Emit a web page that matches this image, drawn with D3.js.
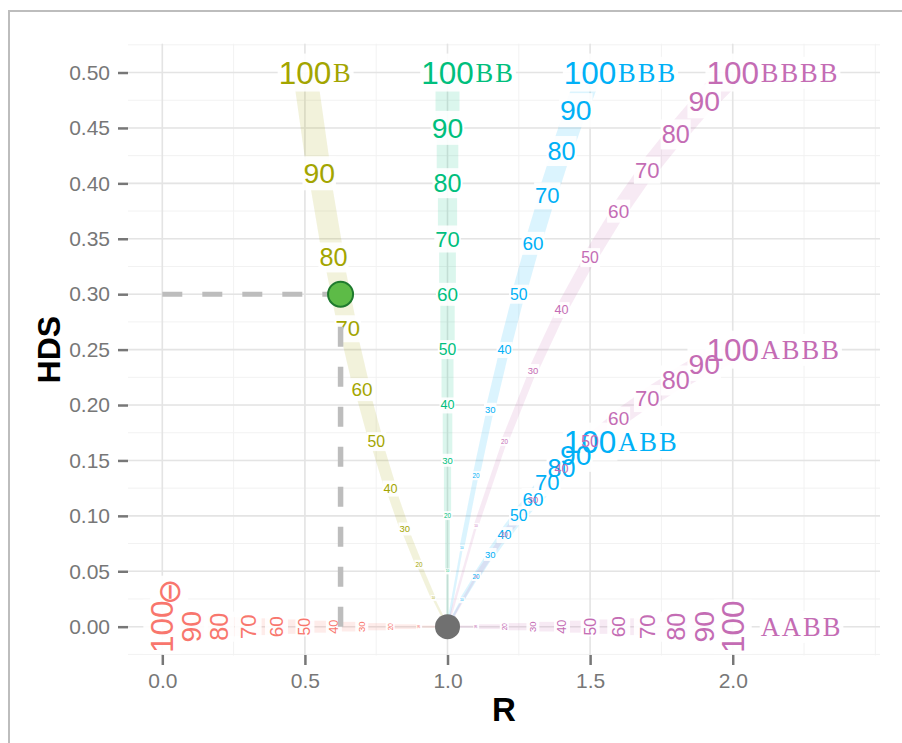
<!DOCTYPE html>
<html>
<head>
<meta charset="utf-8">
<script src="https://cdn.jsdelivr.net/npm/d3@7"></script>
<style>
  body { margin: 0; background: #fff; }
  svg text { font-family: "Liberation Sans", Arial, sans-serif; }
  svg text.suffix { font-family: "Liberation Serif", "Times New Roman", serif; letter-spacing: 2px; }
</style>
</head>
<body>
<div id="chart"></div>
<script>
// tumour purity (%) of every label
const purity = [10, 20, 30, 40, 50, 60, 70, 80, 90, 100];

// R and HDS, one pair of arrays per genotype
const rNull   = [0.90, 0.80, 0.70, 0.60, 0.50, 0.40, 0.30, 0.20, 0.10, 0.00];
const hdsNull = [0, 0, 0, 0, 0, 0, 0, 0, 0, 0];
const rB      = [0.95, 0.90, 0.85, 0.80, 0.75, 0.70, 0.65, 0.60, 0.55, 0.50];
const hdsB    = [0.026, 0.056, 0.088, 0.125, 0.167, 0.214, 0.269, 0.333, 0.409, 0.500];
const rBB     = [1, 1, 1, 1, 1, 1, 1, 1, 1, 1];
const hdsBB   = [0.05, 0.10, 0.15, 0.20, 0.25, 0.30, 0.35, 0.40, 0.45, 0.50];
const rBBB    = [1.05, 1.10, 1.15, 1.20, 1.25, 1.30, 1.35, 1.40, 1.45, 1.50];
const hdsBBB  = [0.071, 0.136, 0.196, 0.250, 0.300, 0.346, 0.389, 0.429, 0.466, 0.500];
const rABB    = [1.05, 1.10, 1.15, 1.20, 1.25, 1.30, 1.35, 1.40, 1.45, 1.50];
const hdsABB  = [0.024, 0.045, 0.065, 0.083, 0.100, 0.115, 0.130, 0.143, 0.155, 0.167];
const rBBBB   = [1.1, 1.2, 1.3, 1.4, 1.5, 1.6, 1.7, 1.8, 1.9, 2.0];
const hdsBBBB = [0.091, 0.167, 0.231, 0.286, 0.333, 0.375, 0.412, 0.444, 0.474, 0.500];
const rABBB   = [1.1, 1.2, 1.3, 1.4, 1.5, 1.6, 1.7, 1.8, 1.9, 2.0];
const hdsABBB = [0.045, 0.083, 0.115, 0.143, 0.167, 0.188, 0.206, 0.222, 0.237, 0.250];
const rAABB   = [1.1, 1.2, 1.3, 1.4, 1.5, 1.6, 1.7, 1.8, 1.9, 2.0];
const hdsAABB = [0, 0, 0, 0, 0, 0, 0, 0, 0, 0];

const genotypes  = ["⊖", "B", "BB", "BBB", "ABB", "BBBB", "ABBB", "AABB"];
const copyNumber = [0, 1, 2, 3, 3, 4, 4, 4];
const rValues    = [rNull, rB, rBB, rBBB, rABB, rBBBB, rABBB, rAABB];
const hdsValues  = [hdsNull, hdsB, hdsBB, hdsBBB, hdsABB, hdsBBBB, hdsABBB, hdsAABB];

const xTicks = [0.0, 0.5, 1.0, 1.5, 2.0];
const xTickLabels = ["0.0", "0.5", "1.0", "1.5", "2.0"];
const yTicks = [0.00, 0.05, 0.10, 0.15, 0.20, 0.25, 0.30, 0.35, 0.40, 0.45, 0.50];
const yTickLabels = ["0.00", "0.05", "0.10", "0.15", "0.20", "0.25", "0.30", "0.35", "0.40", "0.45", "0.50"];

const normalPoint = {r: 1.0, hds: 0.0};
const samplePoint = {r: 0.625, hds: 0.30};

const width = 902, height = 743;

const svg = d3.select("#chart").append("svg")
    .attr("width", width)
    .attr("height", height);

// outer frame
svg.append("rect")
    .attr("x", 9).attr("y", 11)
    .attr("width", 1000).attr("height", 1000)
    .attr("fill", "none")
    .attr("stroke", "#bdbdbd")
    .attr("stroke-width", 2);

const x = d3.scaleLinear().domain([-0.1203, 2.5164]).range([128, 880]);
const y = d3.scaleLinear().domain([-0.026, 0.526]).range([655.5, 43.7]);

const color = d3.scaleOrdinal()
    .domain([0, 1, 2, 3, 4])
    .range(["#F8766D", "#A3A500", "#00BF7D", "#00B0F6", "#C46CB4"]);
const fontSize = d3.scaleLinear().domain([10, 100]).range([3.2, 31.5]);
const bandWidth = d3.scaleLinear().domain([0, 100]).range([0, 24]);

// grid
const xStep = xTicks[1] - xTicks[0], yStep = yTicks[1] - yTicks[0];
const xMinor = d3.range(xTicks[0] - xStep, xTicks[xTicks.length - 1] + xStep * 1.01, xStep / 2)
    .filter(v => v >= x.domain()[0] && v <= x.domain()[1]);
const yMinor = d3.range(yTicks[0] - yStep, yTicks[yTicks.length - 1] + yStep * 1.01, yStep / 2)
    .filter(v => v >= y.domain()[0] && v <= y.domain()[1]);

const grid = svg.append("g");
grid.selectAll(".vminor").data(xMinor).join("line")
    .attr("x1", d => x(d)).attr("x2", d => x(d))
    .attr("y1", y.range()[0]).attr("y2", y.range()[1])
    .attr("stroke", "#f2f2f2").attr("stroke-width", 1);
grid.selectAll(".hminor").data(yMinor).join("line")
    .attr("y1", d => y(d)).attr("y2", d => y(d))
    .attr("x1", x.range()[0]).attr("x2", x.range()[1])
    .attr("stroke", "#f2f2f2").attr("stroke-width", 1);
grid.selectAll(".vmajor").data(xTicks).join("line")
    .attr("x1", d => x(d)).attr("x2", d => x(d))
    .attr("y1", y.range()[0]).attr("y2", y.range()[1])
    .attr("stroke", "#e4e4e4").attr("stroke-width", 1.6);
grid.selectAll(".hmajor").data(yTicks).join("line")
    .attr("y1", d => y(d)).attr("y2", d => y(d))
    .attr("x1", x.range()[0]).attr("x2", x.range()[1])
    .attr("stroke", "#e4e4e4").attr("stroke-width", 1.6);

// axes
const xAxis = d3.axisBottom(x).tickValues(xTicks)
    .tickFormat((d, i) => xTickLabels[i]).tickSize(10).tickPadding(8);
const yAxis = d3.axisLeft(y).tickValues(yTicks)
    .tickFormat((d, i) => yTickLabels[i]).tickSize(10).tickPadding(8);

svg.append("g")
    .attr("class", "x-axis axis")
    .attr("transform", "translate(0," + (y.range()[0] - 0.5) + ")")
    .call(xAxis);
svg.append("g")
    .attr("class", "y-axis axis")
    .attr("transform", "translate(" + x.range()[0] + ",0)")
    .call(yAxis);

svg.selectAll(".axis .domain").remove();
svg.selectAll(".axis line").attr("stroke", "#777").attr("stroke-width", 2.5);
svg.selectAll(".axis text")
    .attr("fill", "#777")
    .style("font-size", "21px")
    .style("font-family", "'Liberation Sans', Arial, sans-serif");

// one record per genotype
const series = genotypes.map((g, i) => ({
    name: g,
    copies: copyNumber[i],
    turned: hdsValues[i].every(v => v === 0),
    pts: purity.map((p, j) => ({p: p, r: rValues[i][j], hds: hdsValues[i][j]}))
}));

// faint tapered bands from the normal point outwards
const segments = [];
series.forEach(s => {
    const pts = [{p: 0, r: normalPoint.r, hds: normalPoint.hds}].concat(s.pts);
    for (let j = 1; j < pts.length; j++) {
        segments.push({a: pts[j - 1], b: pts[j], s: s});
    }
});
svg.append("g").selectAll("line").data(segments).join("line")
    .attr("x1", d => x(d.a.r)).attr("y1", d => y(d.a.hds))
    .attr("x2", d => x(d.b.r)).attr("y2", d => y(d.b.hds))
    .attr("stroke", d => color(d.s.copies))
    .attr("stroke-opacity", 0.14)
    .attr("stroke-width", d => bandWidth(d.b.p));

// labels: white boxes below, text on top
const boxG = svg.append("g");
const textG = svg.append("g");

const labelData = series.flatMap(s => s.pts.map(d => Object.assign({s: s}, d)));

textG.selectAll("text.num").data(labelData).join("text")
    .attr("class", "num")
    .attr("transform", d => `translate(${x(d.r)},${y(d.hds)})` + (d.s.turned ? " rotate(-90)" : ""))
    .attr("text-anchor", "middle")
    .attr("dy", "0.35em")
    .style("font-size", d => fontSize(d.p) + "px")
    .attr("fill", d => color(d.s.copies))
    .text(d => d.p);

const last = purity.length - 1;
textG.selectAll("text.suffix").data(series).join("text")
    .attr("class", "suffix")
    .attr("transform", d => {
        const px = x(d.pts[last].r), py = y(d.pts[last].hds);
        // the empty genotype keeps the turned frame, the others read flat
        if (d.copies === 0) return `translate(${px},${py}) rotate(-90) translate(22,7)`;
        return `translate(${px + 28},${py})`;
    })
    .attr("text-anchor", "start")
    .attr("dy", "0.35em")
    .style("font-size", d => d.copies === 0 ? "31px" : "26.5px")
    .style("font-family", d => d.copies === 0 ? "'DejaVu Sans', sans-serif" : null)
    .attr("fill", d => color(d.copies))
    .text(d => d.name);

textG.selectAll("text").each(function() {
    const b = this.getBBox();
    const pad = 1;
    boxG.append("rect")
        .attr("transform", this.getAttribute("transform"))
        .attr("x", b.x - pad).attr("y", b.y - pad)
        .attr("width", b.width + 2 * pad).attr("height", b.height + 2 * pad)
        .attr("fill", "#fff")
        .attr("fill-opacity", 0.9);
});

// dashed guides to the sample
svg.append("line")
    .attr("x1", x(0)).attr("x2", x(samplePoint.r))
    .attr("y1", y(samplePoint.hds)).attr("y2", y(samplePoint.hds))
    .attr("stroke", "#bdbdbd").attr("stroke-width", 5)
    .attr("stroke-dasharray", "20,20");
svg.append("line")
    .attr("x1", x(samplePoint.r)).attr("x2", x(samplePoint.r))
    .attr("y1", y(0)).attr("y2", y(samplePoint.hds))
    .attr("stroke", "#bdbdbd").attr("stroke-width", 5.5)
    .attr("stroke-dasharray", "20,20");

// points
svg.append("circle")
    .attr("cx", x(normalPoint.r)).attr("cy", y(normalPoint.hds))
    .attr("r", 12.5)
    .attr("fill", "#707070");
svg.append("circle")
    .attr("cx", x(samplePoint.r)).attr("cy", y(samplePoint.hds))
    .attr("r", 12.5)
    .attr("fill", "#5dbb47")
    .attr("stroke", "#1f7a2e")
    .attr("stroke-width", 2);

// axis titles
svg.append("text")
    .attr("x", (x.range()[0] + x.range()[1]) / 2)
    .attr("y", 721)
    .attr("text-anchor", "middle")
    .style("font-size", "33px")
    .style("font-weight", "bold")
    .text("R");
svg.append("text")
    .attr("transform", `translate(60,${(y.range()[0] + y.range()[1]) / 2}) rotate(-90)`)
    .attr("text-anchor", "middle")
    .style("font-size", "32px")
    .style("font-weight", "bold")
    .text("HDS");
</script>
</body>
</html>
